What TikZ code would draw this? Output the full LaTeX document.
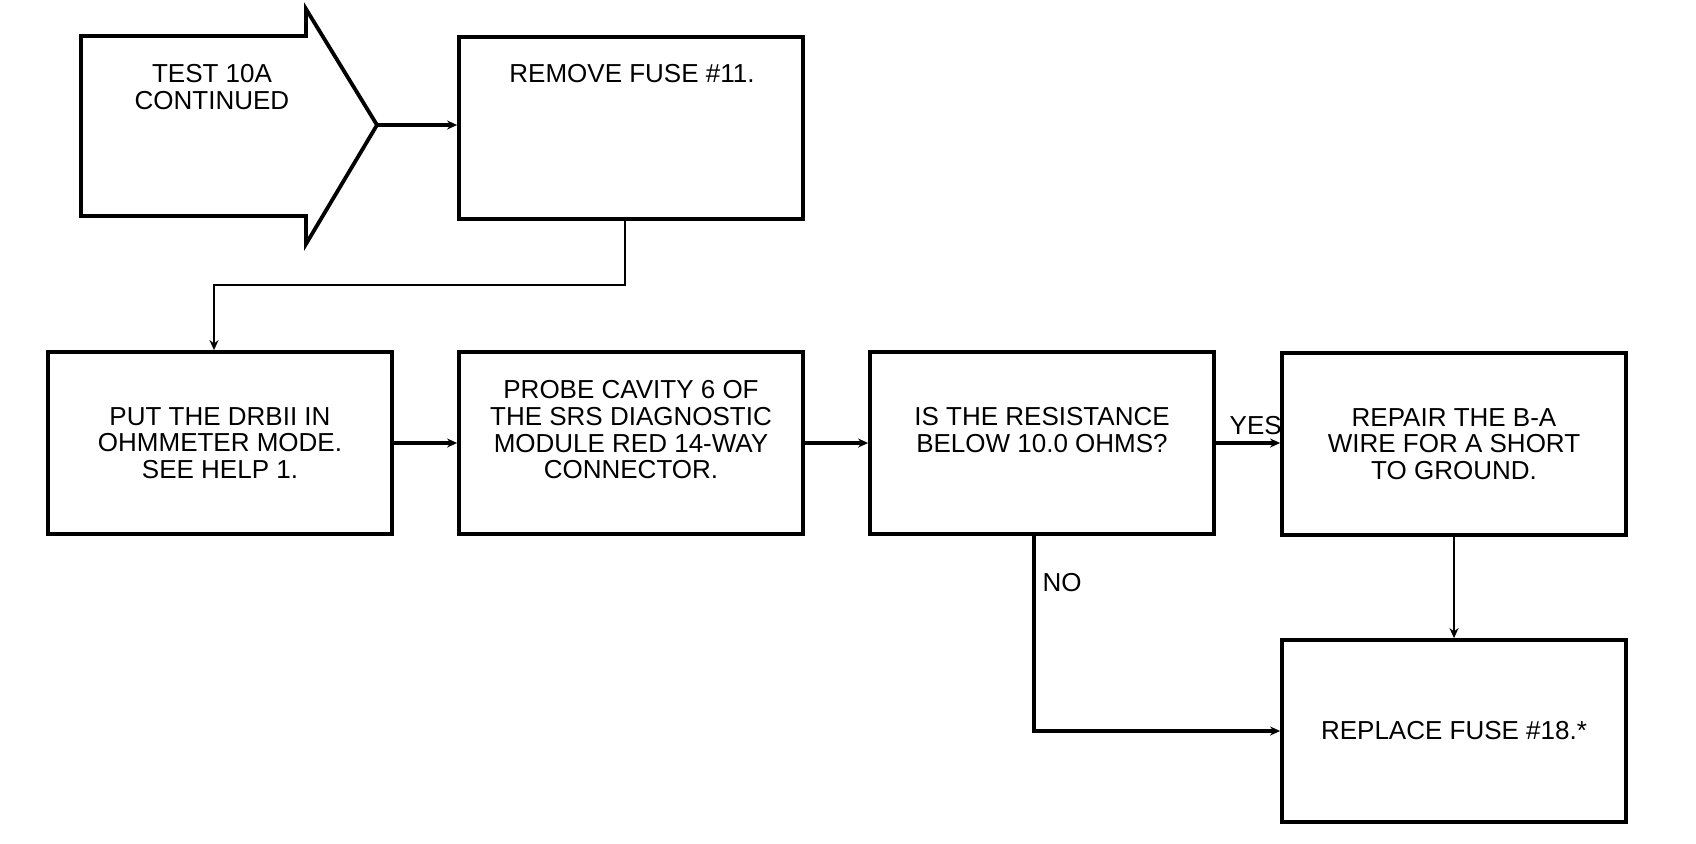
\documentclass[tikz,border=0pt]{standalone}
\usepackage{fontspec}
\setmainfont{Liberation Sans}
\usetikzlibrary{arrows.meta,positioning,calc}

\tikzset{
  stepbox/.style={draw, line width=1.9pt, minimum width=172pt, minimum height=91pt, align=center, inner sep=0pt},
  link/.style={line width=1.9pt, -{Stealth[length=5pt,width=4.5pt]}},
  thinlink/.style={line width=1pt, -{Stealth[length=5pt,width=4.5pt]}}
}

\begin{document}
\begin{tikzpicture}[x=0.5pt, y=-0.5pt, every node/.style={font=\fontsize{13}{13.3}\selectfont}]
    \useasboundingbox (0,0) rectangle (1696,843);

    % Entry arrow
    \draw[line width=1.9pt, line join=miter] (81,36) -- (306,36) -- (306,9) -- (377,125) -- (306,244) -- (306,216) -- (81,216) -- cycle;
    \coordinate (tip) at (377,125);
    \node[align=center] (entry) at (212,87) {TEST 10A\\CONTINUED};

    % Boxes
    \node[stepbox] (remove) at (631,128) {};
    \node (removetxt) at (632,74) {REMOVE FUSE \#11.};
    \node[stepbox] (put) at (220,443) {PUT THE DRBII IN\\OHMMETER MODE.\\SEE HELP 1.};
    \node[stepbox] (probe) at (631,443) {PROBE CAVITY 6 OF\\THE SRS DIAGNOSTIC\\MODULE RED 14-WAY\\CONNECTOR.\\~};
    \node[stepbox] (resist) at (1042,443) {IS THE RESISTANCE\\BELOW 10.0 OHMS?\\~};
    \node[stepbox] (repair) at (1454,444) {REPAIR THE B-A\\WIRE FOR A SHORT\\TO GROUND.};
    \node[stepbox] (replace) at (1454,731) {REPLACE FUSE \#18.*};

    % Connectors
    \draw[link] (tip) -- (tip -| remove.west);
    \draw[thinlink] ($(remove.south)+(-6,0)$) -- ++(0,64) -| ($(put.north)+(-6,0)$);
    \draw[link] (put.east) -- (probe.west);
    \draw[link] (probe.east) -- (resist.west);
    \draw[link] (resist.east) -- node (yes) [pos=0.62, above] {YES} (resist.east -| repair.west);
    \draw[thinlink] (repair.south) -- (replace.north);
    \draw[link] ($(resist.south)+(-8,0)$) |- node (no) [pos=0.12, right] {NO} (replace.west);
\end{tikzpicture}
\end{document}
